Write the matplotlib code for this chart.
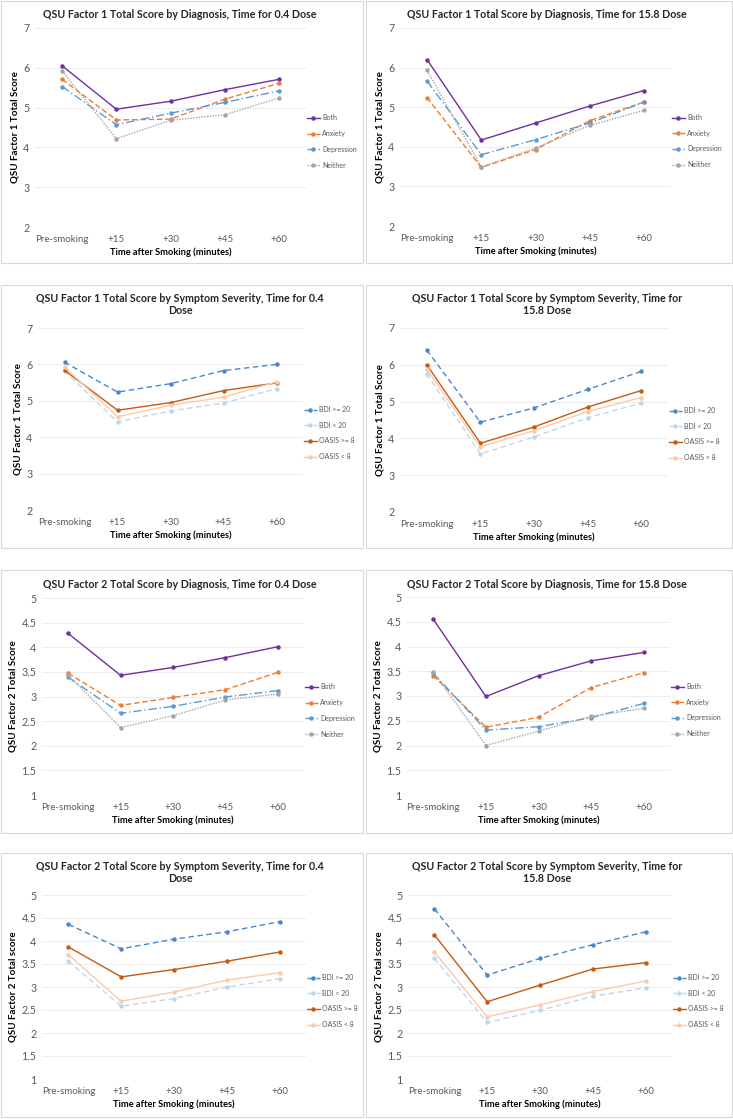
import matplotlib
matplotlib.use('Agg')
import matplotlib.pyplot as plt
from matplotlib.patches import Rectangle

plt.rcParams['font.family'] = ['Lato', 'DejaVu Sans']

times = ['Pre-smoking', '+15', '+30', '+45', '+60']

diag_names = ['Both', 'Anxiety', 'Depression', 'Neither']
sev_names = ['BDI >= 20', 'BDI < 20', 'OASIS >= 8', 'OASIS < 8']

# Factor 1, by diagnosis
f1_diag_04 = [
    [6.05, 4.96, 5.16, 5.45, 5.71],
    [5.71, 4.69, 4.71, 5.21, 5.61],
    [5.53, 4.57, 4.86, 5.13, 5.42],
    [5.92, 4.22, 4.68, 4.82, 5.24],
]
f1_diag_158 = [
    [6.20, 4.17, 4.60, 5.03, 5.42],
    [5.24, 3.48, 3.93, 4.66, 5.13],
    [5.66, 3.80, 4.18, 4.60, 5.13],
    [5.93, 3.49, 3.97, 4.54, 4.92],
]
# Factor 1, by symptom severity
f1_sev_04 = [
    [6.06, 5.24, 5.47, 5.83, 6.00],
    [5.82, 4.42, 4.72, 4.94, 5.33],
    [5.84, 4.74, 4.95, 5.28, 5.49],
    [5.93, 4.56, 4.88, 5.10, 5.52],
]
f1_sev_158 = [
    [6.40, 4.44, 4.83, 5.33, 5.82],
    [5.75, 3.58, 4.04, 4.56, 4.96],
    [6.00, 3.87, 4.31, 4.85, 5.30],
    [5.88, 3.77, 4.21, 4.73, 5.11],
]
# Factor 2, by diagnosis
f2_diag_04 = [
    [4.28, 3.43, 3.59, 3.79, 4.01],
    [3.47, 2.82, 2.98, 3.14, 3.49],
    [3.39, 2.66, 2.80, 2.99, 3.12],
    [3.43, 2.37, 2.61, 2.93, 3.05],
]
f2_diag_158 = [
    [4.55, 2.99, 3.41, 3.71, 3.88],
    [3.41, 2.37, 2.57, 3.17, 3.47],
    [3.46, 2.31, 2.38, 2.56, 2.85],
    [3.49, 2.00, 2.29, 2.59, 2.75],
]
# Factor 2, by symptom severity
f2_sev_04 = [
    [4.36, 3.83, 4.04, 4.20, 4.42],
    [3.56, 2.58, 2.75, 3.00, 3.18],
    [3.87, 3.22, 3.38, 3.56, 3.76],
    [3.70, 2.69, 2.89, 3.15, 3.31],
]
f2_sev_158 = [
    [4.70, 3.26, 3.62, 3.92, 4.20],
    [3.62, 2.23, 2.49, 2.80, 2.98],
    [4.13, 2.68, 3.04, 3.39, 3.53],
    [3.76, 2.35, 2.61, 2.90, 3.13],
]

diag_style = [
    dict(color='#7030A0', linestyle='-'),
    dict(color='#ED7D31', linestyle=(0, (4, 2))),
    dict(color='#5B9BD5', linestyle=(0, (6, 2, 1, 2))),
    dict(color='#A5A5A5', linestyle=(0, (1, 1))),
]
sev_style = [
    dict(color='#4A86CC', linestyle=(0, (4, 2.5))),
    dict(color='#BDD7EE', linestyle=(0, (4, 2.5))),
    dict(color='#C55A11', linestyle='-'),
    dict(color='#F8CBAD', linestyle='-'),
]

W, H = 733, 1119
fig = plt.figure(figsize=(W / 100, H / 100), dpi=100)

panels = [
    # box(l,t,r,b), axes(l,t,r,b), title, ylabel, data, names, styles, ylim, yticks
    ((1, 1, 363, 263), (35, 28, 306, 227),
     'QSU Factor 1 Total Score by Diagnosis, Time for 0.4 Dose',
     'QSU Factor 1 Total Score', f1_diag_04, diag_names, diag_style, (2, 7), [2, 3, 4, 5, 6, 7]),
    ((366, 1, 732, 263), (400, 28, 671, 226),
     'QSU Factor 1 Total Score by Diagnosis, Time for 15.8 Dose',
     'QSU Factor 1 Total Score', f1_diag_158, diag_names, diag_style, (2, 7), [2, 3, 4, 5, 6, 7]),
    ((1, 285, 363, 548), (38, 328, 303, 510),
     'QSU Factor 1 Total Score by Symptom Severity, Time for 0.4\nDose',
     'QSU Factor 1 Total Score', f1_sev_04, sev_names, sev_style, (2, 7), [2, 3, 4, 5, 6, 7]),
    ((366, 285, 732, 548), (400, 328, 668, 512),
     'QSU Factor 1 Total Score by Symptom Severity, Time for\n15.8 Dose',
     'QSU Factor 1 Total Score', f1_sev_158, sev_names, sev_style, (2, 7), [2, 3, 4, 5, 6, 7]),
    ((1, 570, 363, 833), (42, 598, 304, 795),
     'QSU Factor 2 Total Score by Diagnosis, Time for 0.4 Dose',
     'QSU Factor 2 Total Score', f2_diag_04, diag_names, diag_style, (1, 5), [1, 1.5, 2, 2.5, 3, 3.5, 4, 4.5, 5]),
    ((366, 570, 732, 833), (407, 597, 670, 795),
     'QSU Factor 2 Total Score by Diagnosis, Time for 15.8 Dose',
     'QSU Factor 2 Total Score', f2_diag_158, diag_names, diag_style, (1, 5), [1, 1.5, 2, 2.5, 3, 3.5, 4, 4.5, 5]),
    ((1, 853, 363, 1117), (42, 895, 306, 1079),
     'QSU Factor 2 Total Score by Symptom Severity, Time for 0.4\nDose',
     'QSU Factor 2 Total score', f2_sev_04, sev_names, sev_style, (1, 5), [1, 1.5, 2, 2.5, 3, 3.5, 4, 4.5, 5]),
    ((366, 853, 732, 1117), (408, 895, 672, 1079),
     'QSU Factor 2 Total Score by Symptom Severity, Time for\n15.8 Dose',
     'QSU Factor 2 Total score', f2_sev_158, sev_names, sev_style, (1, 5), [1, 1.5, 2, 2.5, 3, 3.5, 4, 4.5, 5]),
]

for box, pos, title, ylabel, data, names, styles, ylim, yticks in panels:
    bl, bt, br, bb = box
    fig.add_artist(Rectangle((bl / W, 1 - bb / H), (br - bl) / W, (bb - bt) / H,
                             transform=fig.transFigure, fill=False,
                             edgecolor='#D9D9D9', linewidth=0.8))
    l, t, r, b = pos
    ax = fig.add_axes([l / W, 1 - b / H, (r - l) / W, (b - t) / H])
    x = range(len(times))
    for vals, name, st in zip(data, names, styles):
        ax.plot(x, vals, marker='o', markersize=2.2, linewidth=1.0, label=name, **st)
    ax.set_xlim(-0.5, len(times) - 0.5)
    ax.set_ylim(*ylim)
    ax.set_yticks(yticks)
    ax.set_yticklabels([('%g' % v) for v in yticks], fontsize=7.7, color='#595959')
    ax.set_xticks(list(x))
    ax.set_xticklabels(times, fontsize=7, color='#595959')
    ax.tick_params(axis='x', length=0, pad=6)
    ax.tick_params(axis='y', length=0, pad=4)
    ax.grid(axis='y', color='#EDEDED', linewidth=0.8)
    ax.set_axisbelow(True)
    for s in ax.spines.values():
        s.set_visible(False)
    ax.set_xlabel('Time after Smoking (minutes)', fontsize=6.7, fontweight='bold', labelpad=2)
    ax.set_ylabel(ylabel, fontsize=7, fontweight='bold', labelpad=3)
    two_line = '\n' in title
    fig.text(((bl + br) / 2 - 2) / W, 1 - (bt + (8 if two_line else 14)) / H, title,
             ha='center', va='center' if not two_line else 'top',
             fontsize=7.7, fontweight='bold', color='#262626', linespacing=1.15)
    ax.legend(loc='center left', bbox_to_anchor=((r + 1) / W, 1 - ((t + b) / 2 + 14) / H),
              bbox_transform=fig.transFigure, frameon=False, fontsize=5,
              handlelength=1.8, labelspacing=1.25, handletextpad=0.35,
              borderaxespad=0, borderpad=0, labelcolor='#595959')

fig.savefig('out.png', dpi=100, facecolor='white')
